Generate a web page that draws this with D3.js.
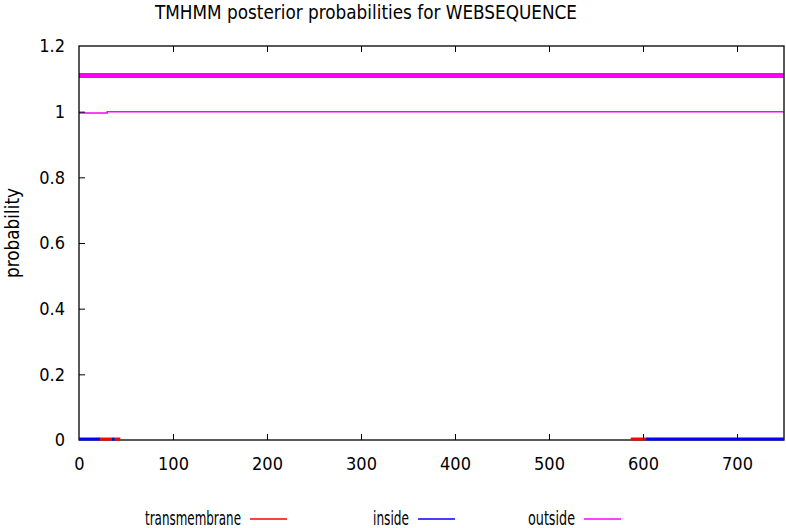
<!DOCTYPE html>
<html>
<head>
<meta charset="utf-8">
<script src="https://cdn.jsdelivr.net/npm/d3@7"></script>
<style>
  body { margin: 0; background: #fff; }
  svg text { font-family: "Liberation Sans Narrow", "DejaVu Sans Condensed", "Liberation Sans", sans-serif; fill: #000; }
</style>
</head>
<body>
<svg id="chart" width="786" height="528"></svg>
<script>
// change points (residue position, probability)
var outsideX = [0, 30, 750];
var outsideY = [0.996, 1.0, 1.0];
var topologyX = [0, 750];
var topologyY = [1.11, 1.11];
// short stretches just above zero along the bottom border
var insideSegs = [[0, 22], [35, 38], [603, 750]];
var tmSegs = [[21, 35], [38, 44], [587, 603]];
var lowY = 0.003;

var xTicks = [0, 100, 200, 300, 400, 500, 600, 700];
var yTicks = [0, 0.2, 0.4, 0.6, 0.8, 1, 1.2];
var legendNames = ["transmembrane", "inside", "outside"];
var legendColors = ["#ff0000", "#0000ff", "#ff00ff"];

(function() {
	var svg = d3.select("#chart");
	var pl = 79, pr = 784, pt = 46, pb = 440;

	var x = d3.scaleLinear().domain([0, 750]).range([pl, pr]);
	var y = d3.scaleLinear().domain([0, 1.2]).range([pb, pt]);

	var line = d3.line()
		.x(function(d) { return x(d[0]); })
		.y(function(d) { return y(d[1]); })
		.curve(d3.curveStepAfter);

	svg.append("path")
		.datum(topologyX.map(function(v, i) { return [v, topologyY[i]]; }))
		.attr("d", line)
		.attr("fill", "none")
		.attr("stroke", "#ff00ff")
		.attr("stroke-width", 5);

	svg.append("path")
		.datum(outsideX.map(function(v, i) { return [v, outsideY[i]]; }))
		.attr("d", line)
		.attr("fill", "none")
		.attr("stroke", "#ff00ff")
		.attr("stroke-width", 1.5);

	// frame
	svg.append("rect")
		.attr("x", pl).attr("y", pt)
		.attr("width", pr - pl).attr("height", pb - pt)
		.attr("fill", "none").attr("stroke", "#000").attr("stroke-width", 1.3);

	function drawSegs(segs, color) {
		segs.forEach(function(s) {
			svg.append("path")
				.datum([[s[0], lowY], [s[1], lowY]])
				.attr("d", line)
				.attr("fill", "none")
				.attr("stroke", color)
				.attr("stroke-width", 3);
		});
	}
	drawSegs(tmSegs, "#ff0000");
	drawSegs(insideSegs, "#0000ff");

	// axes, ticks pointing inward
	var gx = svg.append("g").attr("transform", "translate(0," + pb + ")")
		.call(d3.axisBottom(x).tickValues(xTicks).tickSizeInner(-6).tickSizeOuter(0).tickPadding(17));
	var gxt = svg.append("g").attr("transform", "translate(0," + pt + ")")
		.call(d3.axisTop(x).tickValues(xTicks).tickSizeInner(-6).tickSizeOuter(0).tickFormat(""));
	var gy = svg.append("g").attr("transform", "translate(" + pl + ",0)")
		.call(d3.axisLeft(y).tickValues(yTicks).tickSizeInner(-6).tickSizeOuter(0).tickPadding(14)
			.tickFormat(function(d) { return String(+d.toFixed(1)); }));

	[gx, gxt, gy].forEach(function(g) {
		g.select(".domain").remove();
		g.selectAll(".tick line").attr("stroke", "#000");
		g.selectAll("text").attr("font-size", 18).attr("font-family", null);
	});
	gx.selectAll(".tick line").filter(function(d) { return d === 0; }).remove();
	gxt.selectAll(".tick line").filter(function(d) { return d === 0; }).remove();
	gy.selectAll(".tick line").filter(function(d) { return d === 0 || d === 1.2; }).remove();

	// title and axis label
	svg.append("text")
		.attr("x", 366).attr("y", 19)
		.attr("text-anchor", "middle")
		.attr("font-size", 19)
		.attr("textLength", 422).attr("lengthAdjust", "spacingAndGlyphs")
		.text("TMHMM posterior probabilities for WEBSEQUENCE");

	svg.append("text")
		.attr("transform", "translate(19,233) rotate(-90)")
		.attr("text-anchor", "middle")
		.attr("font-size", 19)
		.attr("textLength", 90).attr("lengthAdjust", "spacingAndGlyphs")
		.text("probability");

	// legend
	var legendStart = [145, 373, 528];
	var legendWidth = [96, 36, 47];
	legendNames.forEach(function(name, i) {
		svg.append("text")
			.attr("x", legendStart[i]).attr("y", 525)
			.attr("font-size", 19)
			.attr("textLength", legendWidth[i]).attr("lengthAdjust", "spacingAndGlyphs")
			.text(name);
		var lx = legendStart[i] + legendWidth[i];
		svg.append("line")
			.attr("x1", lx + 9).attr("x2", lx + 46)
			.attr("y1", 519).attr("y2", 519)
			.attr("stroke", legendColors[i]).attr("stroke-width", 1.5);
	});
})();
</script>
</body>
</html>
